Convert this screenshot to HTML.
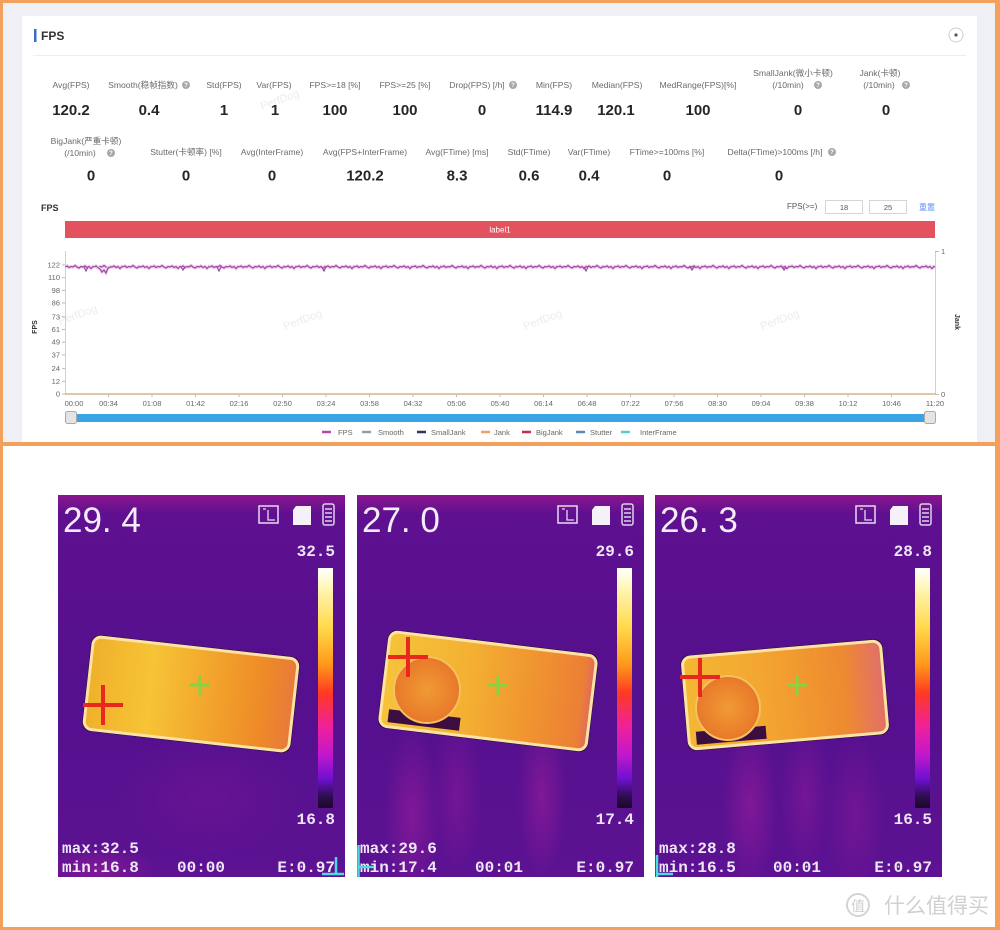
<!DOCTYPE html>
<html><head><meta charset="utf-8"><style>
html,body{margin:0;padding:0;width:1000px;height:930px;overflow:hidden;background:#fff}
svg{display:block}
.s{font-family:"Liberation Sans","Noto Sans CJK SC",sans-serif}
.m{font-family:"Liberation Mono",monospace;font-weight:bold}
</style></head><body>
<svg width="1000" height="930" viewBox="0 0 1000 930" xmlns="http://www.w3.org/2000/svg">
<defs>
<pattern id="wig" x="65" y="259" width="29" height="16" patternUnits="userSpaceOnUse">
<path d="M0 8 L2 7 L4 8.5 L6 7.5 L8 8 L10 6.5 L12 8 L14 9 L16 7.5 L18 8 L20 7 L22 8.5 L24 7.5 L26 9.5 L28 7.5 L29 8" fill="none" stroke="#f3cdf0" stroke-width="3.4"/>
<path d="M0 8 L2 7 L4 8.5 L6 7.5 L8 8 L10 6.5 L12 8 L14 9 L16 7.5 L18 8 L20 7 L22 8.5 L24 7.5 L26 9.5 L28 7.5 L29 8" fill="none" stroke="#9a4aa2" stroke-width="1.2"/>
</pattern>
<linearGradient id="cbar" x1="0" y1="0" x2="0" y2="1">
<stop offset="0" stop-color="#ffffff"/><stop offset="0.08" stop-color="#fff7b8"/><stop offset="0.25" stop-color="#ffd84a"/><stop offset="0.4" stop-color="#ff9a1a"/><stop offset="0.52" stop-color="#ff3a22"/><stop offset="0.66" stop-color="#f0209a"/><stop offset="0.78" stop-color="#c018cc"/><stop offset="0.88" stop-color="#6e10d0"/><stop offset="0.95" stop-color="#2e0e50"/><stop offset="1" stop-color="#1a0828"/>
</linearGradient>
<linearGradient id="bg" x1="0" y1="0" x2="0" y2="1">
<stop offset="0" stop-color="#8a168e"/><stop offset="0.05" stop-color="#5e1090"/><stop offset="0.5" stop-color="#54108e"/><stop offset="1" stop-color="#5c1292"/>
</linearGradient>
<radialGradient id="mag"><stop offset="0" stop-color="#a01e9c" stop-opacity="0.55"/><stop offset="1" stop-color="#a01e9c" stop-opacity="0"/></radialGradient>
<linearGradient id="ph1" x1="0" y1="0" x2="1" y2="0"><stop offset="0" stop-color="#f0b02a"/><stop offset="0.3" stop-color="#f6c436"/><stop offset="0.6" stop-color="#f2a42c"/><stop offset="0.85" stop-color="#ee8a27"/><stop offset="1" stop-color="#e87a3c"/></linearGradient>
<linearGradient id="ph2" x1="0" y1="0" x2="1" y2="0"><stop offset="0" stop-color="#f5c33a"/><stop offset="0.4" stop-color="#f4b032"/><stop offset="0.7" stop-color="#f09530"/><stop offset="0.95" stop-color="#ec7f35"/><stop offset="1" stop-color="#e06a60"/></linearGradient>
<linearGradient id="ph3" x1="0" y1="0" x2="1" y2="0"><stop offset="0" stop-color="#f3b833"/><stop offset="0.4" stop-color="#f3a530"/><stop offset="0.8" stop-color="#ee8a30"/><stop offset="1" stop-color="#e0706a"/></linearGradient>
<radialGradient id="circ"><stop offset="0" stop-color="#f09a34"/><stop offset="1" stop-color="#e8782a"/></radialGradient>
<clipPath id="pc"><rect width="287" height="382"/></clipPath>
</defs>

<!-- frame -->
<rect width="1000" height="930" fill="#f3a05c"/>
<rect x="3" y="3" width="992" height="439" fill="#eef0f5"/>
<rect x="3" y="446" width="992" height="481" fill="#ffffff"/>
<rect x="22" y="16" width="955" height="426" fill="#ffffff"/>
<line x1="33" y1="55.5" x2="966" y2="55.5" stroke="#eceef2" stroke-width="1"/>
<rect x="34" y="29" width="2.5" height="13" fill="#3a6fc4"/>
<text class="s" x="41" y="40" font-size="12" font-weight="bold" fill="#333">FPS</text>
<circle cx="956" cy="35" r="7" fill="#fff" stroke="#cfcfcf"/><circle cx="956" cy="35" r="1.6" fill="#555"/>

<!-- faint watermarks -->
<g class="s" font-size="11" fill="#ececec">
<text x="262" y="110" transform="rotate(-20 262 110)">PerfDog</text>
<text x="60" y="325" transform="rotate(-20 60 325)">PerfDog</text>
<text x="285" y="330" transform="rotate(-20 285 330)">PerfDog</text>
<text x="525" y="330" transform="rotate(-20 525 330)">PerfDog</text>
<text x="762" y="330" transform="rotate(-20 762 330)">PerfDog</text>
</g>

<!-- stats -->
<g class="s" font-size="8.6" fill="#6a6a6a" text-anchor="middle">
<text x="71" y="88">Avg(FPS)</text>
<text x="143" y="88">Smooth(稳帧指数)</text>
<text x="224" y="88">Std(FPS)</text>
<text x="274" y="88">Var(FPS)</text>
<text x="335" y="88">FPS&gt;=18 [%]</text>
<text x="405" y="88">FPS&gt;=25 [%]</text>
<text x="477" y="88">Drop(FPS) [/h]</text>
<text x="554" y="88">Min(FPS)</text>
<text x="617" y="88">Median(FPS)</text>
<text x="698" y="88">MedRange(FPS)[%]</text>
<text x="793" y="76">SmallJank(微小卡顿)</text>
<text x="788" y="88">(/10min)</text>
<text x="880" y="76">Jank(卡顿)</text>
<text x="879" y="88">(/10min)</text>
<text x="86" y="144">BigJank(严重卡顿)</text>
<text x="80" y="156">(/10min)</text>
<text x="186" y="155">Stutter(卡顿率) [%]</text>
<text x="272" y="155">Avg(InterFrame)</text>
<text x="365" y="155">Avg(FPS+InterFrame)</text>
<text x="457" y="155">Avg(FTime) [ms]</text>
<text x="529" y="155">Std(FTime)</text>
<text x="589" y="155">Var(FTime)</text>
<text x="667" y="155">FTime&gt;=100ms [%]</text>
<text x="775" y="155">Delta(FTime)&gt;100ms [/h]</text>
</g>
<g fill="#a8a8a8">
<circle cx="186" cy="85" r="4"/><circle cx="513" cy="85" r="4"/><circle cx="818" cy="85" r="4"/><circle cx="906" cy="85" r="4"/><circle cx="111" cy="153" r="4"/><circle cx="832" cy="152" r="4"/>
</g>
<g class="s" font-size="6" fill="#fff" text-anchor="middle" font-weight="bold">
<text x="186" y="87.2">?</text><text x="513" y="87.2">?</text><text x="818" y="87.2">?</text><text x="906" y="87.2">?</text><text x="111" y="155.2">?</text><text x="832" y="154.2">?</text>
</g>
<g class="s" font-size="15" font-weight="bold" fill="#262626" text-anchor="middle">
<text x="71" y="115">120.2</text><text x="149" y="115">0.4</text><text x="224" y="115">1</text><text x="275" y="115">1</text><text x="335" y="115">100</text><text x="405" y="115">100</text><text x="482" y="115">0</text><text x="554" y="115">114.9</text><text x="616" y="115">120.1</text><text x="698" y="115">100</text><text x="798" y="115">0</text><text x="886" y="115">0</text>
<text x="91" y="180.5">0</text><text x="186" y="180.5">0</text><text x="272" y="180.5">0</text><text x="365" y="180.5">120.2</text><text x="457" y="180.5">8.3</text><text x="529" y="180.5">0.6</text><text x="589" y="180.5">0.4</text><text x="667" y="180.5">0</text><text x="779" y="180.5">0</text>
</g>

<!-- chart header -->
<text class="s" x="41" y="211" font-size="9" font-weight="bold" fill="#333">FPS</text>
<text class="s" x="787" y="209" font-size="8" fill="#555">FPS(&gt;=)</text>
<rect x="825.5" y="200.5" width="37" height="13" fill="#fff" stroke="#d6d6d6"/>
<rect x="869.5" y="200.5" width="37" height="13" fill="#fff" stroke="#d6d6d6"/>
<text class="s" x="844" y="210" font-size="7.5" fill="#555" text-anchor="middle">18</text>
<text class="s" x="888" y="210" font-size="7.5" fill="#555" text-anchor="middle">25</text>
<text class="s" x="919" y="210" font-size="8" fill="#5b8def">重置</text>
<rect x="65" y="221" width="870" height="17" fill="#e2525f"/>
<text class="s" x="500" y="232.5" font-size="8" fill="#fff" text-anchor="middle">label1</text>

<!-- axes -->
<line x1="65.5" y1="251" x2="65.5" y2="394" stroke="#cfcfcf"/>
<line x1="935.5" y1="251" x2="935.5" y2="394" stroke="#cfcfcf"/>
<line x1="935" y1="251.5" x2="939" y2="251.5" stroke="#bbb"/>
<line x1="935" y1="394.5" x2="939" y2="394.5" stroke="#bbb"/>
<line x1="65" y1="394" x2="935" y2="394" stroke="#d2b68c" stroke-width="1.6"/>
<g stroke="#bbb">
<line x1="62" y1="265" x2="65" y2="265"/><line x1="62" y1="277.7" x2="65" y2="277.7"/><line x1="62" y1="290.4" x2="65" y2="290.4"/><line x1="62" y1="303" x2="65" y2="303"/><line x1="62" y1="316.8" x2="65" y2="316.8"/><line x1="62" y1="329.5" x2="65" y2="329.5"/><line x1="62" y1="342.2" x2="65" y2="342.2"/><line x1="62" y1="354.9" x2="65" y2="354.9"/><line x1="62" y1="368.6" x2="65" y2="368.6"/><line x1="62" y1="381.3" x2="65" y2="381.3"/><line x1="62" y1="394" x2="65" y2="394"/>
</g>
<g class="s" font-size="7.5" fill="#666" text-anchor="end">
<text x="60" y="267.5">122</text><text x="60" y="280.2">110</text><text x="60" y="292.9">98</text><text x="60" y="305.5">86</text><text x="60" y="319.3">73</text><text x="60" y="332">61</text><text x="60" y="344.7">49</text><text x="60" y="357.4">37</text><text x="60" y="371.1">24</text><text x="60" y="383.8">12</text><text x="60" y="396.5">0</text>
</g>
<g class="s" font-size="7.5" fill="#666"><text x="941" y="254">1</text><text x="941" y="397">0</text></g>
<text class="s" x="37" y="327" font-size="7" font-weight="bold" fill="#333" text-anchor="middle" transform="rotate(-90 37 327)">FPS</text>
<text class="s" x="955" y="322" font-size="7" font-weight="bold" fill="#333" text-anchor="middle" transform="rotate(90 955 322)">Jank</text>
<g stroke="#bbb">
<line x1="108.5" y1="394" x2="108.5" y2="397"/><line x1="152" y1="394" x2="152" y2="397"/><line x1="195.5" y1="394" x2="195.5" y2="397"/><line x1="239" y1="394" x2="239" y2="397"/><line x1="282.5" y1="394" x2="282.5" y2="397"/><line x1="326" y1="394" x2="326" y2="397"/><line x1="369.5" y1="394" x2="369.5" y2="397"/><line x1="413" y1="394" x2="413" y2="397"/><line x1="456.5" y1="394" x2="456.5" y2="397"/><line x1="500" y1="394" x2="500" y2="397"/><line x1="543.5" y1="394" x2="543.5" y2="397"/><line x1="587" y1="394" x2="587" y2="397"/><line x1="630.5" y1="394" x2="630.5" y2="397"/><line x1="674" y1="394" x2="674" y2="397"/><line x1="717.5" y1="394" x2="717.5" y2="397"/><line x1="761" y1="394" x2="761" y2="397"/><line x1="804.5" y1="394" x2="804.5" y2="397"/><line x1="848" y1="394" x2="848" y2="397"/><line x1="891.5" y1="394" x2="891.5" y2="397"/>
</g>
<g class="s" font-size="7.5" fill="#666" text-anchor="middle">
<text x="74" y="406">00:00</text><text x="108.5" y="406">00:34</text><text x="152" y="406">01:08</text><text x="195.5" y="406">01:42</text><text x="239" y="406">02:16</text><text x="282.5" y="406">02:50</text><text x="326" y="406">03:24</text><text x="369.5" y="406">03:58</text><text x="413" y="406">04:32</text><text x="456.5" y="406">05:06</text><text x="500" y="406">05:40</text><text x="543.5" y="406">06:14</text><text x="587" y="406">06:48</text><text x="630.5" y="406">07:22</text><text x="674" y="406">07:56</text><text x="717.5" y="406">08:30</text><text x="761" y="406">09:04</text><text x="804.5" y="406">09:38</text><text x="848" y="406">10:12</text><text x="891.5" y="406">10:46</text><text x="935" y="406">11:20</text>
</g>

<!-- FPS series -->
<rect x="65" y="259" width="870" height="16" fill="url(#wig)"/>
<g fill="none">
<path d="M97 267 L100 269 L102 272 L104 270 L106 273 L108 268 L111 267" stroke="#f3cdf0" stroke-width="3"/>
<path d="M97 267 L100 269 L102 272 L104 270 L106 273 L108 268 L111 267" stroke="#9a4aa2" stroke-width="1.2"/>
<path d="M84 267 L86 271 L88 267 M181 267 L183 270 L185 267 M217 267 L219 271 L221 267 M322 267 L324 271 L326 267 M584 267 L586 271 L588 267 M690 267 L692 270 L694 267 M782 267 L784 270 L786 267" stroke="#9a4aa2" stroke-width="1.2"/>
</g>

<!-- slider -->
<rect x="65" y="414" width="870" height="8" fill="#3aa5e6"/>
<rect x="65.5" y="411.5" width="11" height="12" rx="2" fill="#e4e4e4" stroke="#aaa"/>
<rect x="924.5" y="411.5" width="11" height="12" rx="2" fill="#e4e4e4" stroke="#aaa"/>

<!-- legend -->
<g stroke-width="2.5">
<line x1="322" y1="432" x2="331" y2="432" stroke="#b04ca8"/>
<line x1="362" y1="432" x2="371" y2="432" stroke="#8ea0a8"/>
<line x1="417" y1="432" x2="426" y2="432" stroke="#2c3560"/>
<line x1="481" y1="432" x2="490" y2="432" stroke="#f0a060"/>
<line x1="522" y1="432" x2="531" y2="432" stroke="#c0304a"/>
<line x1="576" y1="432" x2="585" y2="432" stroke="#5a8ab8"/>
<line x1="621" y1="432" x2="630" y2="432" stroke="#50d0d0"/>
</g>
<g class="s" font-size="7.5" fill="#666">
<text x="338" y="435">FPS</text><text x="378" y="435">Smooth</text><text x="431" y="435">SmallJank</text><text x="494" y="435">Jank</text><text x="536" y="435">BigJank</text><text x="590" y="435">Stutter</text><text x="640" y="435">InterFrame</text>
</g>

<!-- ===== thermal panel 1 ===== -->
<g transform="translate(58,495)">
<g clip-path="url(#pc)">
<rect width="287" height="382" fill="url(#bg)"/>
<ellipse cx="40" cy="375" rx="60" ry="25" fill="url(#mag)"/>
<ellipse cx="150" cy="300" rx="90" ry="60" fill="url(#mag)" opacity="0.35"/>
<g transform="translate(133,199) rotate(6.4)">
<rect x="-105" y="-48.5" width="210" height="97" rx="9" fill="#2a0a30"/>
<rect x="-103" y="-46.5" width="206" height="93" rx="8" fill="url(#ph1)" stroke="#fbe3a8" stroke-width="3"/>
</g>
<g stroke="#e8281c" stroke-width="4"><line x1="25" y1="210" x2="65" y2="210"/><line x1="45" y1="190" x2="45" y2="230"/></g>
<g stroke="#86d440" stroke-width="3"><line x1="132" y1="190" x2="152" y2="190"/><line x1="142" y1="180" x2="142" y2="200"/></g>
<text class="s" x="5" y="37" font-size="35" fill="#f4ecf8">29. 4</text>
<rect x="201" y="11" width="19" height="17" fill="none" stroke="#ead8f2" stroke-width="1.5"/>
<path d="M205 14 h3 M210 15 v10 h7" fill="none" stroke="#ead8f2" stroke-width="1.3"/>
<path d="M238 11 h15 v19 h-18 v-15 z" fill="#f6f0f8"/>
<rect x="265" y="9" width="11" height="21" rx="2" fill="none" stroke="#e0d0ea" stroke-width="1.5"/>
<path d="M267 14 h7 M267 18 h7 M267 22 h7 M267 26 h7" stroke="#e0d0ea" stroke-width="1.5"/>
<rect x="260" y="73" width="15" height="240" fill="url(#cbar)"/>
<g class="m" font-size="16" fill="#efe6f5">
<text x="277" y="61" text-anchor="end">32.5</text>
<text x="277" y="329" text-anchor="end">16.8</text>
<text x="4" y="358">max:32.5</text>
<text x="4" y="377">min:16.8</text>
<text x="119" y="377">00:00</text>
<text x="277" y="377" text-anchor="end">E:0.97</text>
</g>
<path d="M278 362 v18 M264 379 h22" stroke="#50d8e0" stroke-width="2.5" fill="none"/>
</g>
</g>

<!-- ===== thermal panel 2 ===== -->
<g transform="translate(357,495)">
<g clip-path="url(#pc)">
<rect width="287" height="382" fill="url(#bg)"/>
<ellipse cx="55" cy="320" rx="28" ry="90" fill="url(#mag)"/>
<ellipse cx="100" cy="300" rx="25" ry="80" fill="url(#mag)" opacity="0.7"/>
<ellipse cx="185" cy="300" rx="25" ry="85" fill="url(#mag)"/>
<g transform="translate(131,196) rotate(6.9)">
<rect x="-106" y="-49.5" width="212" height="99" rx="9" fill="#2a0a30"/>
<rect x="-104" y="-47.5" width="208" height="95" rx="8" fill="url(#ph2)" stroke="#fbe3a8" stroke-width="3"/>
<rect x="-96" y="30" width="72" height="13" fill="#3b0d40"/>
</g>
<circle cx="70" cy="195" r="33" fill="url(#circ)" stroke="#f5c060" stroke-width="2"/>
<g stroke="#e8281c" stroke-width="4"><line x1="31" y1="162" x2="71" y2="162"/><line x1="51" y1="142" x2="51" y2="182"/></g>
<g stroke="#86d440" stroke-width="3"><line x1="131" y1="190" x2="151" y2="190"/><line x1="141" y1="180" x2="141" y2="200"/></g>
<text class="s" x="5" y="37" font-size="35" fill="#f4ecf8">27. 0</text>
<rect x="201" y="11" width="19" height="17" fill="none" stroke="#ead8f2" stroke-width="1.5"/>
<path d="M205 14 h3 M210 15 v10 h7" fill="none" stroke="#ead8f2" stroke-width="1.3"/>
<path d="M238 11 h15 v19 h-18 v-15 z" fill="#f6f0f8"/>
<rect x="265" y="9" width="11" height="21" rx="2" fill="none" stroke="#e0d0ea" stroke-width="1.5"/>
<path d="M267 14 h7 M267 18 h7 M267 22 h7 M267 26 h7" stroke="#e0d0ea" stroke-width="1.5"/>
<rect x="260" y="73" width="15" height="240" fill="url(#cbar)"/>
<g class="m" font-size="16" fill="#efe6f5">
<text x="277" y="61" text-anchor="end">29.6</text>
<text x="277" y="329" text-anchor="end">17.4</text>
<text x="3" y="358">max:29.6</text>
<text x="3" y="377">min:17.4</text>
<text x="118" y="377">00:01</text>
<text x="277" y="377" text-anchor="end">E:0.97</text>
</g>
<path d="M1.5 350 v32 M1 372 h16" stroke="#50d8e0" stroke-width="2.5" fill="none"/>
</g>
</g>

<!-- ===== thermal panel 3 ===== -->
<g transform="translate(655,495)">
<g clip-path="url(#pc)">
<rect width="287" height="382" fill="url(#bg)"/>
<ellipse cx="95" cy="310" rx="28" ry="85" fill="url(#mag)"/>
<ellipse cx="150" cy="300" rx="25" ry="75" fill="url(#mag)" opacity="0.7"/>
<ellipse cx="200" cy="320" rx="30" ry="80" fill="url(#mag)" opacity="0.6"/>
<g transform="translate(130,200) rotate(-4.9)">
<rect x="-101.5" y="-48" width="203" height="96" rx="9" fill="#2a0a30"/>
<rect x="-99.5" y="-46" width="199" height="92" rx="8" fill="url(#ph3)" stroke="#fbe3a8" stroke-width="3"/>
<rect x="-92" y="29" width="70" height="13" fill="#3b0d40"/>
</g>
<circle cx="73" cy="213" r="32" fill="url(#circ)" stroke="#f5c060" stroke-width="2"/>
<g stroke="#e8281c" stroke-width="4"><line x1="25" y1="182" x2="65" y2="182"/><line x1="45" y1="163" x2="45" y2="202"/></g>
<g stroke="#86d440" stroke-width="3"><line x1="132" y1="190" x2="152" y2="190"/><line x1="142" y1="180" x2="142" y2="200"/></g>
<text class="s" x="5" y="37" font-size="35" fill="#f4ecf8">26. 3</text>
<rect x="201" y="11" width="19" height="17" fill="none" stroke="#ead8f2" stroke-width="1.5"/>
<path d="M205 14 h3 M210 15 v10 h7" fill="none" stroke="#ead8f2" stroke-width="1.3"/>
<path d="M238 11 h15 v19 h-18 v-15 z" fill="#f6f0f8"/>
<rect x="265" y="9" width="11" height="21" rx="2" fill="none" stroke="#e0d0ea" stroke-width="1.5"/>
<path d="M267 14 h7 M267 18 h7 M267 22 h7 M267 26 h7" stroke="#e0d0ea" stroke-width="1.5"/>
<rect x="260" y="73" width="15" height="240" fill="url(#cbar)"/>
<g class="m" font-size="16" fill="#efe6f5">
<text x="277" y="61" text-anchor="end">28.8</text>
<text x="277" y="329" text-anchor="end">16.5</text>
<text x="4" y="358">max:28.8</text>
<text x="4" y="377">min:16.5</text>
<text x="118" y="377">00:01</text>
<text x="277" y="377" text-anchor="end">E:0.97</text>
</g>
<path d="M2 360 v22 M2 379 h16" stroke="#50d8e0" stroke-width="2.5" fill="none"/>
</g>
</g>

<!-- site watermark -->
<circle cx="858" cy="905" r="11" fill="none" stroke="#d4d4d4" stroke-width="2"/>
<text x="858" y="911" font-size="14" fill="#cfcfcf" text-anchor="middle" font-family="Liberation Sans, Noto Sans CJK SC, sans-serif">值</text>
<text x="884" y="913" font-size="21" fill="#d0d0d0" font-family="Liberation Sans, Noto Sans CJK SC, sans-serif">什么值得买</text>
</svg>
</body></html>
